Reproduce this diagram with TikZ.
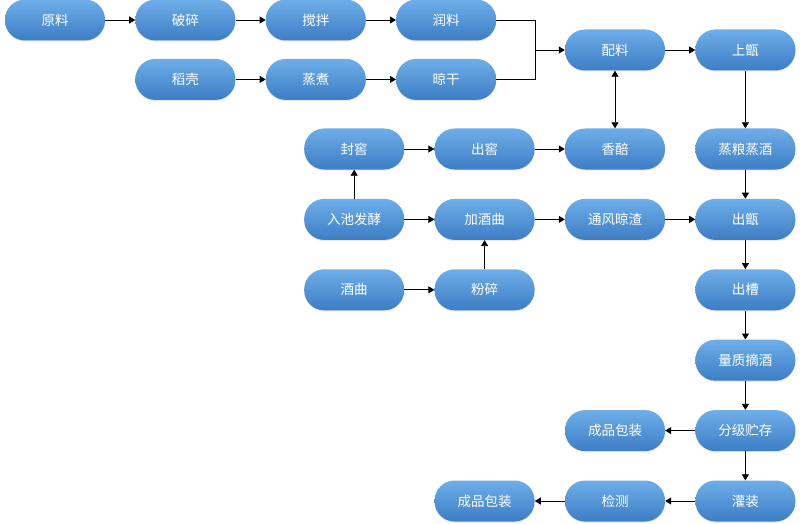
\documentclass[tikz,border=0pt]{standalone}
\usepackage{fontspec}
\newfontfamily\cjk{Noto Sans CJK SC}
\usetikzlibrary{arrows.meta,positioning,shadows}
\definecolor{PillTop}{HTML}{6EAEE9}
\definecolor{PillBot}{HTML}{3C7DC5}
\definecolor{Ink}{HTML}{000000}
\tikzset{
  pill/.style={rounded corners=20pt,minimum width=100pt,minimum height=41pt,top color=PillTop,bottom color=PillBot,draw=none,align=center,font=\cjk\fontsize{13.5}{15}\selectfont,text=white,inner sep=0pt,drop shadow={opacity=0.18,shadow xshift=0pt,shadow yshift=-1.2pt}},
  line/.style={-{Triangle[length=6pt,width=7pt]},draw=Ink,line width=0.8pt},
  plain/.style={draw=Ink,line width=0.8pt}
}

\begin{document}
\begin{tikzpicture}[x=1pt,y=1pt,node distance=29pt and 30pt]
  \useasboundingbox[fill=white] (0,0) rectangle (803,-524);
  % raw material rows
  \node[pill] (yl) at (55,-20) {原料};
  \node[pill,right=of yl] (ps) {破碎};
  \node[pill,right=of ps] (jb) {搅拌};
  \node[pill,right=of jb] (rl) {润料};
  \node[pill,below=18pt of ps] (dk) {稻壳};
  \node[pill,right=of dk] (zz) {蒸煮};
  \node[pill,right=of zz] (lg) {晾干};
  \node[pill] (pl) at (615,-50) {配料};
  \node[pill,right=of pl] (sz) {上甑};
  \coordinate (jn) at (535,-50);
  % fermentation block
  \node[pill] (xp) at (615,-149) {香醅};
  \node[pill,left=of xp] (cj) {出窖};
  \node[pill,left=of cj] (fj) {封窖};
  \node[pill,right=of xp] (zl) {蒸粮蒸酒};
  \node[pill,below=of fj] (rc) {入池发酵};
  \node[pill,below=of cj] (jq) {加酒曲};
  \node[pill,below=of xp] (tf) {通风晾渣};
  \node[pill,below=of zl] (cz) {出甑};
  \node[pill,below=of rc] (qu) {酒曲};
  \node[pill,below=of jq] (fs) {粉碎};
  % output column
  \node[pill,below=of cz] (cc) {出槽};
  \node[pill,below=of cc] (zj) {量质摘酒};
  \node[pill,below=of zj] (fc) {分级贮存};
  \node[pill,below=of fc] (gz) {灌装};
  \node[pill,left=of fc] (bz) {成品包装};
  \node[pill,left=of gz] (jc) {检测};
  \node[pill,left=of jc] (bp) {成品包装};
  \draw[line] (yl) -- (ps);
  \draw[line] (ps) -- (jb);
  \draw[line] (jb) -- (rl);
  \draw[line] (dk) -- (zz);
  \draw[line] (zz) -- (lg);
  \draw[plain] (rl) -| (jn);
  \draw[plain] (lg) -| (jn);
  \draw[line] (jn) -- (pl);
  \draw[line] (pl) -- (sz);
  \draw[line,{Triangle[length=6pt,width=7pt]}-{Triangle[length=6pt,width=7pt]}] (pl) -- (xp);
  \draw[line] (sz) -- (zl);
  \draw[line] (zl) -- (cz);
  \draw[line] (fj) -- (cj);
  \draw[line] (cj) -- (xp);
  \draw[line] (rc) -- (fj);
  \draw[line] (rc) -- (jq);
  \draw[line] (jq) -- (tf);
  \draw[line] (tf) -- (cz);
  \draw[line] (qu) -- (fs);
  \draw[line] (fs) -- (jq);
  \draw[line] (cz) -- (cc);
  \draw[line] (cc) -- (zj);
  \draw[line] (zj) -- (fc);
  \draw[line] (fc) -- (gz);
  \draw[line] (fc) -- (bz);
  \draw[line] (gz) -- (jc);
  \draw[line] (jc) -- (bp);
\end{tikzpicture}
\end{document}
